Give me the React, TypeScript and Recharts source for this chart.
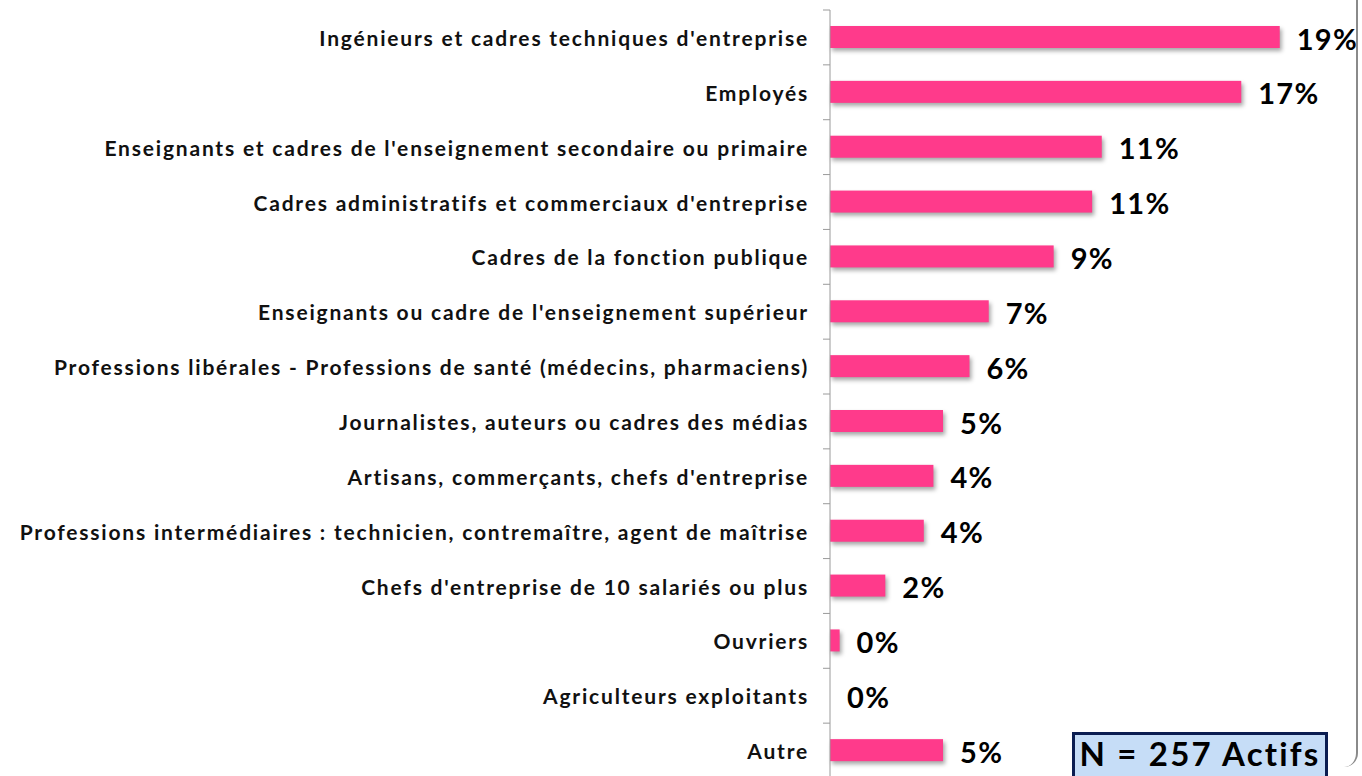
import { BarChart, Bar, XAxis, YAxis, LabelList } from 'recharts';

const categories = [
  "Ingénieurs et cadres techniques d'entreprise",
  'Employés',
  "Enseignants et cadres de l'enseignement secondaire ou primaire",
  "Cadres administratifs et commerciaux d'entreprise",
  'Cadres de la fonction publique',
  "Enseignants ou cadre de l'enseignement supérieur",
  'Professions libérales - Professions de santé (médecins, pharmaciens)',
  'Journalistes, auteurs ou cadres des médias',
  "Artisans, commerçants, chefs d'entreprise",
  'Professions intermédiaires : technicien, contremaître, agent de maîtrise',
  "Chefs d'entreprise de 10 salariés ou plus",
  'Ouvriers',
  'Agriculteurs exploitants',
  'Autre',
];

// share of respondents, in %
const shares = [18.7, 17.1, 11.3, 10.9, 9.3, 6.6, 5.8, 4.7, 4.3, 3.9, 2.3, 0.4, 0, 4.7];

const sampleNote = 'N = 257 Actifs';

const data = categories.map((name, i) => ({ name, value: shares[i] }));

const FONT = 'Lato, "Open Sans", sans-serif';
const PINK = '#FF3A8B';
const GAP = 21;

function CatTick(props: any) {
  const { x, y, payload } = props;
  const half = payload?.offset ?? 27.4;
  return (
    <g>
      <text
        x={x}
        y={y}
        textAnchor="end"
        dominantBaseline="central"
        fontFamily={FONT}
        fontWeight={700}
        fontSize={21}
        letterSpacing={1.8}
        fill="#111"
      >
        {payload.value}
      </text>
      <line x1={x + GAP - 7} x2={x + GAP} y1={y - half} y2={y - half} stroke="#9a9a9a" />
    </g>
  );
}

function ShadowBar(props: any) {
  const { x, y, width, height } = props;
  if (!width || width <= 0) return <g />;
  return (
    <rect
      x={x}
      y={y}
      width={width}
      height={height}
      fill={PINK}
      style={{ filter: 'drop-shadow(2px 3px 2px rgba(0,0,0,0.35))' }}
    />
  );
}

function ValueLabel(props: any) {
  const { x, y, width, height, value } = props;
  return (
    <text
      x={x + width + 17}
      y={y + height / 2 + 1}
      dominantBaseline="central"
      fontFamily={FONT}
      fontWeight={700}
      fontSize={29}
      letterSpacing={1.3}
      fill="#000"
    >
      {Math.round(value)}%
    </text>
  );
}

export default function App() {
  return (
    <div style={{ position: 'fixed', left: 0, top: 0, width: 1362, height: 776, overflow: 'hidden', background: '#fff' }}>
      <BarChart
        width={1362}
        height={778}
        data={data}
        layout="vertical"
        margin={{ top: 10, right: 51, bottom: 0, left: 0 }}
        barSize={22}
      >
        <XAxis type="number" domain={[0, 20]} hide />
        <YAxis
          type="category"
          dataKey="name"
          width={830}
          interval={0}
          tickLine={false}
          tickSize={0}
          tickMargin={GAP}
          axisLine={{ stroke: '#9a9a9a' }}
          tick={(p: any) => <CatTick {...p} />}
        />
        <Bar dataKey="value" fill={PINK} shape={(p: any) => <ShadowBar {...p} />} isAnimationActive={false}>
          <LabelList dataKey="value" content={(p: any) => <ValueLabel {...p} />} />
        </Bar>
      </BarChart>
      <div
        style={{
          position: 'absolute',
          left: 1300,
          top: -20,
          width: 58,
          height: 787,
          borderRight: '2px solid #8a8a8a',
          borderBottomRightRadius: 14,
          boxSizing: 'border-box',
        }}
      />
      <div
        style={{
          position: 'absolute',
          left: 1072,
          top: 732,
          width: 256,
          height: 60,
          boxSizing: 'border-box',
          border: '3px solid #0B1D51',
          background: '#C6DDF7',
          fontFamily: FONT,
          fontWeight: 700,
          fontSize: 33,
          letterSpacing: 2.2,
          color: '#000',
          textAlign: 'center',
          lineHeight: '36px',
          whiteSpace: 'nowrap',
        }}
      >
        {sampleNote}
      </div>
    </div>
  );
}
